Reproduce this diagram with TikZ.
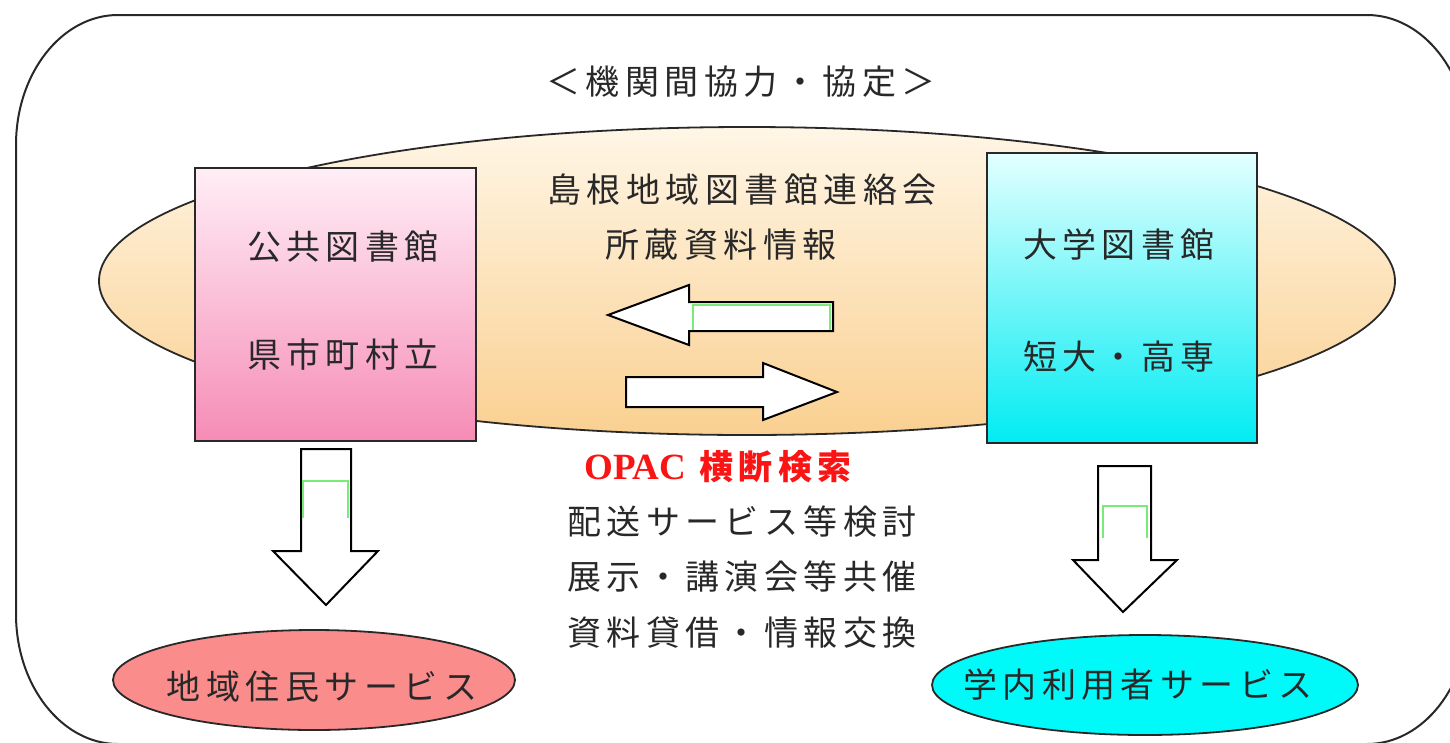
\documentclass[tikz,border=0pt]{standalone}
\usepackage{fontspec}
\setmainfont{Noto Sans CJK JP}[LetterSpace=16]
\newfontfamily\opacfont{Liberation Serif}
\usepackage{tikz}
\usetikzlibrary{shapes.geometric}

\definecolor{inkgray}{RGB}{40,40,40}
\definecolor{creamtop}{RGB}{255,246,230}
\definecolor{creambot}{RGB}{250,208,145}
\definecolor{pinktop}{RGB}{255,238,246}
\definecolor{pinkbot}{RGB}{246,140,182}
\definecolor{cyantop}{RGB}{228,255,255}
\definecolor{cyanbot}{RGB}{0,236,242}
\definecolor{salmon}{RGB}{250,140,140}
\definecolor{svccyan}{RGB}{0,250,250}
\definecolor{opacred}{RGB}{250,20,20}
\definecolor{glitch}{RGB}{120,235,120}

\begin{document}
\begin{tikzpicture}[x=1pt, y=-1pt, font=\fontsize{34}{40}\selectfont,
  every node/.style={text=inkgray},
  txt/.style={inner sep=0pt},
  libbox/.style={draw=inkgray, line width=2pt, rectangle, inner sep=0pt},
  svc/.style={draw=inkgray, line width=1.8pt, ellipse, inner sep=0pt, minimum height=100pt},
  blockarrow/.style={draw=black, line width=2pt, fill=white, line join=miter},
  glitchline/.style={draw=glitch, line width=1.8pt}]
\clip (0,0) rectangle (1450,742);
\fill[white] (0,0) rectangle (1450,742);

% outer frame
\draw[inkgray, line width=2pt] (16,145) .. controls (16,73) and (62,15) .. (118,15) -- (1367,15)
  .. controls (1423,15) and (1469,73) .. (1469,145) -- (1469,614)
  .. controls (1469,686) and (1423,744) .. (1367,744) -- (118,744)
  .. controls (62,744) and (16,686) .. (16,614) -- cycle;
\node[txt] (title) at (741,82) {＜機関間協力・協定＞};

% network
\node[draw=inkgray, line width=1.8pt, ellipse, inner sep=0pt, minimum width=1296pt, minimum height=308pt,
  top color=creamtop, bottom color=creambot] (net) at (747,281) {};
\node[txt] (netname) at (742,190) {島根地域図書館連絡会};
\node[txt] (netinfo) at (721,245) {所蔵資料情報};

% libraries
\node[libbox, minimum width=281pt, minimum height=273pt, top color=pinktop, bottom color=pinkbot] (pub) at (335.5,304.5) {};
\node[txt] (pubname) at (343,247) {公共図書館};
\node[txt] (pubkind) at (343,355) {県市町村立};
\node[libbox, minimum width=270pt, minimum height=290pt, top color=cyantop, bottom color=cyanbot] (uni) at (1122,298) {};
\node[txt] (uniname) at (1119,245) {大学図書館};
\node[txt] (unikind) at (1119,357) {短大・高専};

% exchange arrows
\draw[blockarrow] (608,315) -- (689,285) -- (689,302) -- (833,302) -- (833,331) -- (689,331) -- (689,345) -- cycle;
\draw[glitchline] (693,330) -- (693,305) -- (830,305) -- (830,330);
\draw[blockarrow] (626,377) -- (763,377) -- (763,363) -- (837,392) -- (763,420) -- (763,407) -- (626,407) -- cycle;

% cooperation items
\node[txt, text=opacred] (opac) at (718,467) {{\opacfont\bfseries\fontsize{37}{40}\selectfont OPAC} \bfseries 横断検索};
\node[txt] (item1) at (742,522) {配送サービス等検討};
\node[txt] (item2) at (742,577) {展示・講演会等共催};
\node[txt] (item3) at (742,633) {資料貸借・情報交換};

% services
\draw[blockarrow] (301,449) -- (351,449) -- (351,551) -- (378,551) -- (326,605) -- (273,551) -- (301,551) -- cycle;
\draw[glitchline] (303,518) -- (303,481) -- (348,481) -- (348,518);
\draw[blockarrow] (1098,466) -- (1151,466) -- (1151,560) -- (1177,560) -- (1123,612) -- (1073,560) -- (1098,560) -- cycle;
\draw[glitchline] (1103,538) -- (1103,506) -- (1147,506) -- (1147,538);

\node[svc, minimum width=402pt, fill=salmon] (local) at (314,680) {};
\node[txt] (localtxt) at (322,687) {地域住民サービス};
\node[svc, minimum width=426pt, fill=svccyan] (campus) at (1145,685) {};
\node[txt] (campustxt) at (1138,685) {学内利用者サービス};
\end{tikzpicture}
\end{document}
